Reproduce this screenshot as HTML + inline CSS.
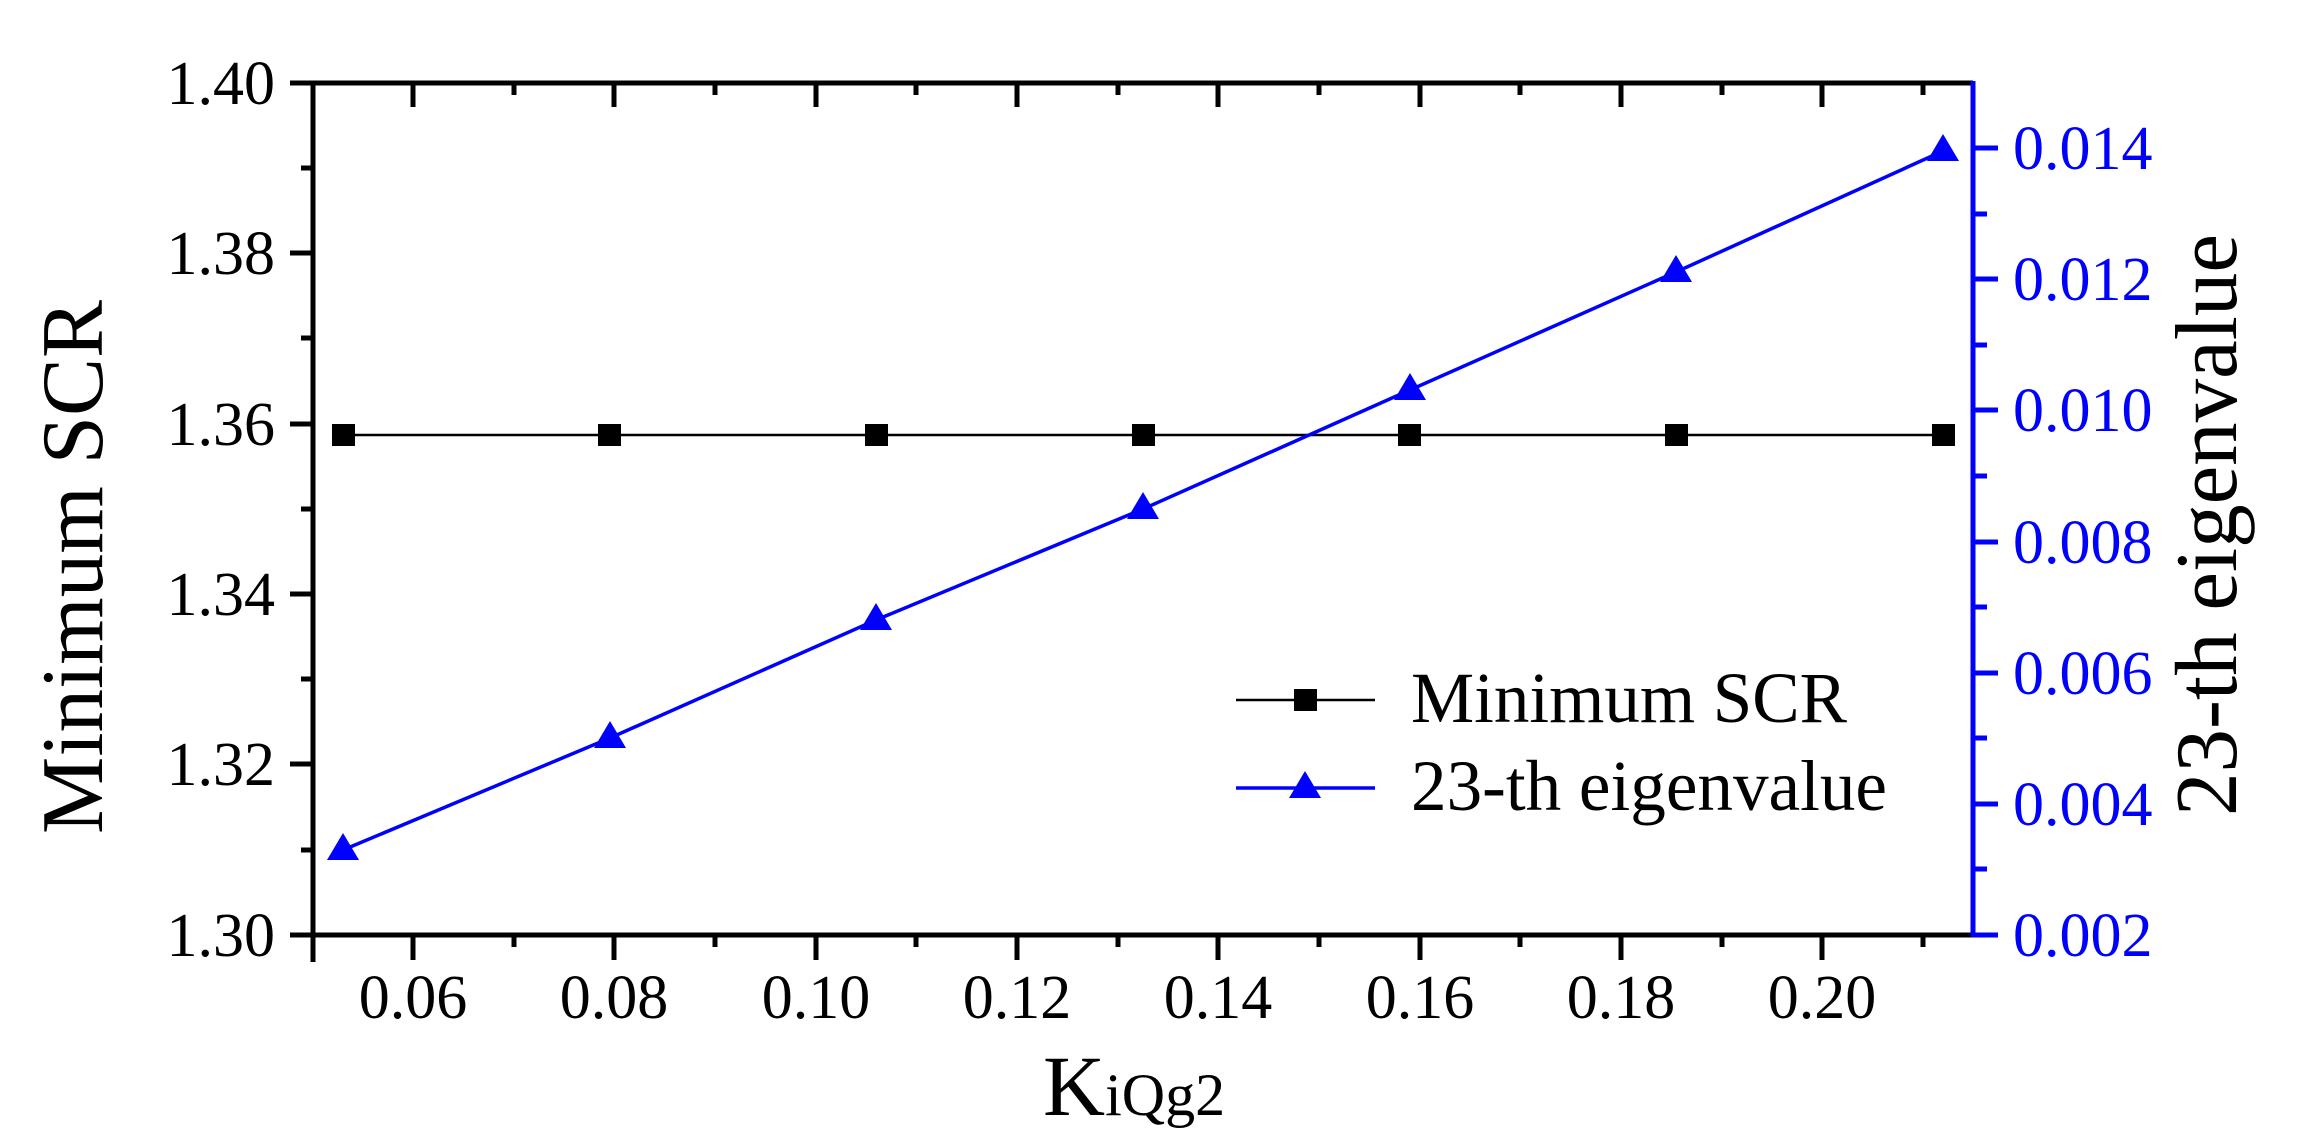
<!DOCTYPE html>
<html><head><meta charset="utf-8"><style>html,body{margin:0;padding:0;background:#fff}svg{display:block}</style></head>
<body>
<svg width="2299" height="1147" viewBox="0 0 2299 1147" xmlns="http://www.w3.org/2000/svg" font-family="Liberation Serif, serif">
<rect width="2299" height="1147" fill="#fff"/>
<!-- data lines -->
<polyline points="343,435 1943,435" stroke="#000" stroke-width="2.5" fill="none"/>
<polyline points="343,850 610,738 876,620 1143,509 1410,390 1676,272 1943,151" stroke="#0000ff" stroke-width="3.5" fill="none"/>
<g fill="#000">
<rect x="332" y="424" width="23" height="22"/><rect x="598" y="424" width="23" height="22"/><rect x="865" y="424" width="23" height="22"/><rect x="1132" y="424" width="23" height="22"/><rect x="1398" y="424" width="23" height="22"/><rect x="1665" y="424" width="23" height="22"/><rect x="1932" y="424" width="23" height="22"/>
</g>
<g fill="#0000ff">
<polygon points="343,833 327,860 359,860"/><polygon points="610,721 594,748 626,748"/><polygon points="876,603 860,630 892,630"/><polygon points="1143,492 1127,519 1159,519"/><polygon points="1410,373 1394,400 1426,400"/><polygon points="1676,255 1660,282 1692,282"/><polygon points="1943,134 1927,161 1959,161"/>
</g>
<!-- axes frame -->
<g stroke="#000" stroke-width="5" fill="none">
<line x1="290" y1="83" x2="1973" y2="83"/>
<line x1="313" y1="81" x2="313" y2="962"/>
<line x1="290" y1="935" x2="1973" y2="935"/>
</g>
<line x1="1973" y1="81" x2="1973" y2="937" stroke="#0000ff" stroke-width="5"/>
<!-- x ticks bottom (outward) and top (inward) -->
<g stroke="#000" stroke-width="5">
<line x1="413" y1="935" x2="413" y2="960"/><line x1="614" y1="935" x2="614" y2="960"/><line x1="816" y1="935" x2="816" y2="960"/><line x1="1017" y1="935" x2="1017" y2="960"/><line x1="1218" y1="935" x2="1218" y2="960"/><line x1="1420" y1="935" x2="1420" y2="960"/><line x1="1621" y1="935" x2="1621" y2="960"/><line x1="1822" y1="935" x2="1822" y2="960"/>
<line x1="514" y1="935" x2="514" y2="947"/><line x1="715" y1="935" x2="715" y2="947"/><line x1="916" y1="935" x2="916" y2="947"/><line x1="1118" y1="935" x2="1118" y2="947"/><line x1="1319" y1="935" x2="1319" y2="947"/><line x1="1520" y1="935" x2="1520" y2="947"/><line x1="1722" y1="935" x2="1722" y2="947"/><line x1="1923" y1="935" x2="1923" y2="947"/>
<line x1="413" y1="83" x2="413" y2="107"/><line x1="614" y1="83" x2="614" y2="107"/><line x1="816" y1="83" x2="816" y2="107"/><line x1="1017" y1="83" x2="1017" y2="107"/><line x1="1218" y1="83" x2="1218" y2="107"/><line x1="1420" y1="83" x2="1420" y2="107"/><line x1="1621" y1="83" x2="1621" y2="107"/><line x1="1822" y1="83" x2="1822" y2="107"/>
<line x1="514" y1="83" x2="514" y2="95"/><line x1="715" y1="83" x2="715" y2="95"/><line x1="916" y1="83" x2="916" y2="95"/><line x1="1118" y1="83" x2="1118" y2="95"/><line x1="1319" y1="83" x2="1319" y2="95"/><line x1="1520" y1="83" x2="1520" y2="95"/><line x1="1722" y1="83" x2="1722" y2="95"/><line x1="1923" y1="83" x2="1923" y2="95"/>
<!-- left y ticks -->
<line x1="290" y1="83" x2="313" y2="83"/><line x1="290" y1="253" x2="313" y2="253"/><line x1="290" y1="424" x2="313" y2="424"/><line x1="290" y1="594" x2="313" y2="594"/><line x1="290" y1="764" x2="313" y2="764"/><line x1="290" y1="935" x2="313" y2="935"/>
<line x1="301" y1="168" x2="313" y2="168"/><line x1="301" y1="338" x2="313" y2="338"/><line x1="301" y1="509" x2="313" y2="509"/><line x1="301" y1="679" x2="313" y2="679"/><line x1="301" y1="850" x2="313" y2="850"/>
</g>
<g stroke="#0000ff" stroke-width="5">
<line x1="1973" y1="148" x2="1998" y2="148"/><line x1="1973" y1="279" x2="1998" y2="279"/><line x1="1973" y1="410" x2="1998" y2="410"/><line x1="1973" y1="542" x2="1998" y2="542"/><line x1="1973" y1="673" x2="1998" y2="673"/><line x1="1973" y1="804" x2="1998" y2="804"/><line x1="1973" y1="935" x2="1998" y2="935"/>
<line x1="1973" y1="214" x2="1987" y2="214"/><line x1="1973" y1="345" x2="1987" y2="345"/><line x1="1973" y1="476" x2="1987" y2="476"/><line x1="1973" y1="607" x2="1987" y2="607"/><line x1="1973" y1="738" x2="1987" y2="738"/><line x1="1973" y1="869" x2="1987" y2="869"/>
</g>
<!-- tick labels -->
<g font-size="62" fill="#000" text-anchor="end">
<text x="275" y="104">1.40</text><text x="275" y="274">1.38</text><text x="275" y="445">1.36</text><text x="275" y="615">1.34</text><text x="275" y="785">1.32</text><text x="275" y="956">1.30</text>
</g>
<g font-size="62" fill="#000" text-anchor="middle">
<text x="413" y="1018">0.06</text><text x="614" y="1018">0.08</text><text x="816" y="1018">0.10</text><text x="1017" y="1018">0.12</text><text x="1218" y="1018">0.14</text><text x="1420" y="1018">0.16</text><text x="1621" y="1018">0.18</text><text x="1822" y="1018">0.20</text>
</g>
<g font-size="62" fill="#0000ff">
<text x="2013" y="169">0.014</text><text x="2013" y="300">0.012</text><text x="2013" y="431">0.010</text><text x="2013" y="563">0.008</text><text x="2013" y="694">0.006</text><text x="2013" y="825">0.004</text><text x="2013" y="956">0.002</text>
</g>
<!-- axis titles -->
<text x="1043" y="1115" font-size="86" fill="#000">K<tspan font-size="60">iQg2</tspan></text>
<text transform="translate(102,567) rotate(-90)" font-size="88" text-anchor="middle" textLength="534" lengthAdjust="spacingAndGlyphs">Minimum SCR</text>
<text transform="translate(2236,525) rotate(-90)" font-size="88" text-anchor="middle" textLength="582" lengthAdjust="spacingAndGlyphs">23-th eigenvalue</text>
<!-- legend -->
<line x1="1236" y1="700" x2="1375" y2="700" stroke="#000" stroke-width="2.5"/>
<rect x="1294" y="689" width="23" height="22" fill="#000"/>
<text x="1411" y="722" font-size="72" textLength="436" lengthAdjust="spacingAndGlyphs">Minimum SCR</text>
<line x1="1236" y1="788" x2="1375" y2="788" stroke="#0000ff" stroke-width="3.5"/>
<polygon points="1305,771 1289,798 1321,798" fill="#0000ff"/>
<text x="1411" y="810" font-size="72" textLength="476" lengthAdjust="spacingAndGlyphs">23-th eigenvalue</text>
</svg>
</body></html>
